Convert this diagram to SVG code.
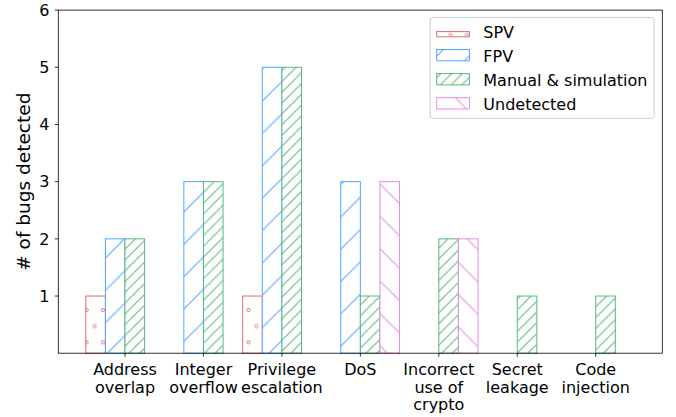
<svg xmlns="http://www.w3.org/2000/svg" width="676" height="417" viewBox="0 0 676 417">
<defs>
<style>
text{font-family:"DejaVu Sans","Liberation Sans",sans-serif;font-size:16px;fill:#000}
.spv{fill:url(#hSPV);stroke:#dd6e6e;stroke-width:1}
.fpv{fill:url(#hFPV);stroke:#4da6ff;stroke-width:1}
.man{fill:url(#hMAN);stroke:#57b97b;stroke-width:1}
.und{fill:url(#hUND);stroke:#e48ae8;stroke-width:1}
.tick{stroke:#000;stroke-width:0.8}
.yt{text-anchor:end}
.xt{text-anchor:middle}
</style>
<pattern id="hSPV" patternUnits="userSpaceOnUse" x="5.8" y="18.85" width="16.175" height="32.35">
<rect width="16.175" height="32.35" fill="#fff"/>
<g fill="none" stroke="#dd6e6e" stroke-width="0.9">
<circle cx="0" cy="0" r="1.6"/><circle cx="16.175" cy="0" r="1.6"/><circle cx="0" cy="32.35" r="1.6"/><circle cx="16.175" cy="32.35" r="1.6"/><circle cx="8.0875" cy="16.175" r="1.6"/>
</g>
</pattern>
<pattern id="hFPV" patternUnits="userSpaceOnUse" x="7.6" y="0" width="32.35" height="32.35">
<rect width="32.35" height="32.35" fill="#fff"/>
<path d="M-1,1L1,-1M0,32.35L32.35,0M31.35,33.35L33.35,31.35" stroke="#4da6ff" stroke-width="1" fill="none"/>
</pattern>
<pattern id="hMAN" patternUnits="userSpaceOnUse" x="7.6" y="0" width="10.7833" height="10.7833">
<rect width="10.7833" height="10.7833" fill="#fff"/>
<path d="M-1,1L1,-1M0,10.7833L10.7833,0M9.7833,11.7833L11.7833,9.7833" stroke="#57b97b" stroke-width="1" fill="none"/>
</pattern>
<pattern id="hUND" patternUnits="userSpaceOnUse" x="1.9" y="0" width="32.35" height="32.35">
<rect width="32.35" height="32.35" fill="#fff"/>
<path d="M-1,-1L33.35,33.35M31.35,-1L33.35,1M-1,31.35L1,33.35" stroke="#e48ae8" stroke-width="1" fill="none"/>
</pattern>
</defs>
<rect width="676" height="417" fill="#fff"/>

<g id="bars">
<g id="spv-bars">
<rect class="spv" x="85.8" y="296.02" width="19.6" height="57.18"/>
<rect class="spv" x="242.7" y="296.02" width="19.6" height="57.18"/>
</g>
<g id="fpv-bars">
<rect class="fpv" x="105.4" y="238.84" width="19.6" height="114.36"/>
<rect class="fpv" x="183.85" y="181.66" width="19.6" height="171.54"/>
<rect class="fpv" x="262.3" y="67.3" width="19.6" height="285.9"/>
<rect class="fpv" x="340.75" y="181.66" width="19.6" height="171.54"/>
</g>
<g id="manual-bars">
<rect class="man" x="125" y="238.84" width="19.6" height="114.36"/>
<rect class="man" x="203.45" y="181.66" width="19.6" height="171.54"/>
<rect class="man" x="281.9" y="67.3" width="19.6" height="285.9"/>
<rect class="man" x="360.35" y="296.02" width="19.6" height="57.18"/>
<rect class="man" x="438.8" y="238.84" width="19.6" height="114.36"/>
<rect class="man" x="517.25" y="296.02" width="19.6" height="57.18"/>
<rect class="man" x="595.7" y="296.02" width="19.6" height="57.18"/>
</g>
<g id="undetected-bars">
<rect class="und" x="379.95" y="181.66" width="19.6" height="171.54"/>
<rect class="und" x="458.4" y="238.84" width="19.6" height="114.36"/>
</g>
</g>

<g id="axes">
<rect x="58.3" y="10.1" width="604" height="343.1" fill="none" stroke="#000" stroke-width="0.8"/>
<g class="tick">
<line x1="54.8" y1="296.02" x2="58.3" y2="296.02"/>
<line x1="54.8" y1="238.84" x2="58.3" y2="238.84"/>
<line x1="54.8" y1="181.66" x2="58.3" y2="181.66"/>
<line x1="54.8" y1="124.48" x2="58.3" y2="124.48"/>
<line x1="54.8" y1="67.3" x2="58.3" y2="67.3"/>
<line x1="54.8" y1="10.1" x2="58.3" y2="10.1"/>
<line x1="125" y1="353.2" x2="125" y2="356.7"/>
<line x1="203.45" y1="353.2" x2="203.45" y2="356.7"/>
<line x1="281.9" y1="353.2" x2="281.9" y2="356.7"/>
<line x1="360.35" y1="353.2" x2="360.35" y2="356.7"/>
<line x1="438.8" y1="353.2" x2="438.8" y2="356.7"/>
<line x1="517.25" y1="353.2" x2="517.25" y2="356.7"/>
<line x1="595.7" y1="353.2" x2="595.7" y2="356.7"/>
</g>
<g id="ytick-labels">
<text class="yt" x="49.5" y="301.7">1</text>
<text class="yt" x="49.5" y="244.5">2</text>
<text class="yt" x="49.5" y="187.3">3</text>
<text class="yt" x="49.5" y="130.1">4</text>
<text class="yt" x="49.5" y="72.9">5</text>
<text class="yt" x="49.5" y="15.7">6</text>
</g>
<g id="xtick-labels">
<text class="xt" x="125" y="375.3">Address<tspan x="125" dy="17.5">overlap</tspan></text>
<text class="xt" x="203.45" y="375.3">Integer<tspan x="203.45" dy="17.5">overflow</tspan></text>
<text class="xt" x="281.9" y="375.3">Privilege<tspan x="281.9" dy="17.5">escalation</tspan></text>
<text class="xt" x="360.35" y="375.3">DoS</text>
<text class="xt" x="438.8" y="375.3">Incorrect<tspan x="438.8" dy="17.5">use of</tspan><tspan x="438.8" dy="17.5">crypto</tspan></text>
<text class="xt" x="517.25" y="375.3">Secret<tspan x="517.25" dy="17.5">leakage</tspan></text>
<text class="xt" x="595.7" y="375.3">Code<tspan x="595.7" dy="17.5">injection</tspan></text>
</g>
<text id="ylabel" x="0" y="0" transform="translate(30,181.7) rotate(-90)" text-anchor="middle" style="font-size:18.5px"># of bugs detected</text>
</g>

<g id="legend">
<rect x="430.2" y="17.5" width="224" height="100.8" rx="2.5" fill="#fff" fill-opacity="0.8" stroke="#cccccc" stroke-width="1"/>
<g id="legend-spv">
<rect class="spv" x="436.7" y="31.6" width="32.7" height="5.2"/>
<text x="483.3" y="37.5">SPV</text>
</g>
<g id="legend-fpv">
<rect class="fpv" x="436.7" y="49.55" width="32.7" height="11.3"/>
<text x="483.3" y="61.55">FPV</text>
</g>
<g id="legend-manual">
<rect class="man" x="436.7" y="73.6" width="32.7" height="11.3"/>
<text x="483.3" y="85.6">Manual &amp; simulation</text>
</g>
<g id="legend-undetected">
<rect class="und" x="436.7" y="97.65" width="32.7" height="11.3"/>
<text x="483.3" y="109.65">Undetected</text>
</g>
</g>
</svg>
